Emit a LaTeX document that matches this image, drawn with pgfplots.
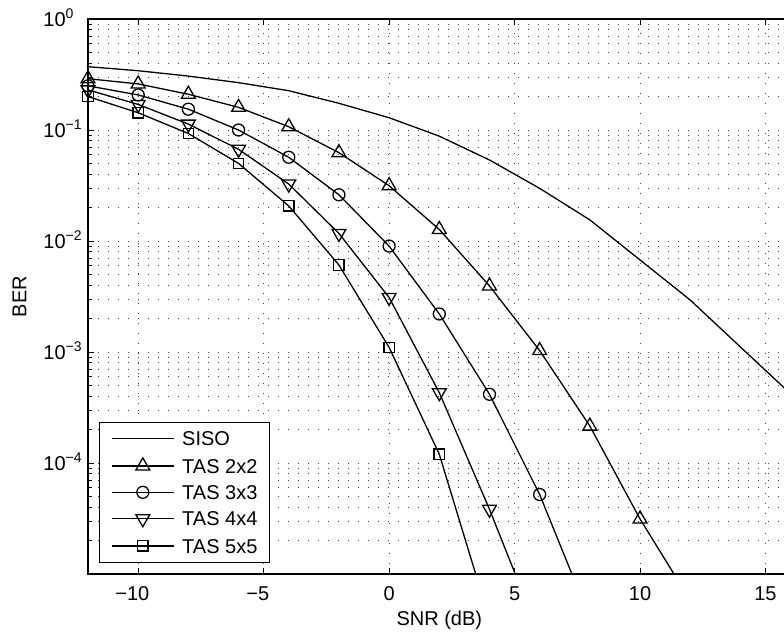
\documentclass[border=0pt]{standalone}
\usepackage{fontspec}
\setmainfont{Liberation Sans}
\usepackage{pgfplots}
\pgfplotsset{compat=1.18}

\begin{document}
\begin{tikzpicture}
\begin{axis}[
  scale only axis,
  width=351.3pt, height=277.5pt,
  ymode=log,
  xmin=-12, xmax=16, ymin=1e-5, ymax=1,
  xtick={-10,-5,0,5,10,15},
  xticklabels={\llap{−}10,\llap{−}5,0,5,10,15},
  ytick={1e-4,1e-3,1e-2,1e-1,1},
  yticklabels={10\textsuperscript{−4},10\textsuperscript{−3},10\textsuperscript{−2},10\textsuperscript{−1},10\textsuperscript{0}},
  minor ytick={2e-5,3e-5,4e-5,5e-5,6e-5,7e-5,8e-5,9e-5,
               2e-4,3e-4,4e-4,5e-4,6e-4,7e-4,8e-4,9e-4,
               2e-3,3e-3,4e-3,5e-3,6e-3,7e-3,8e-3,9e-3,
               2e-2,3e-2,4e-2,5e-2,6e-2,7e-2,8e-2,9e-2,
               2e-1,3e-1,4e-1,5e-1,6e-1,7e-1,8e-1,9e-1},
  tick align=inside,
  xtick pos=both, ytick pos=both,
  major tick length=3pt, minor tick length=2pt,
  tick style={black, line width=0.5pt},
  axis line style={line width=1pt},
  xmajorgrids, ymajorgrids, yminorgrids,
  major grid style={black!75, line width=0.5pt, dash pattern=on 0.6pt off 4.4pt},
  minor grid style={black!75, line width=0.5pt, dash pattern=on 0.6pt off 4.4pt},
  every axis x label/.style={at={(rel axis cs:0.5,0)}, anchor=base, yshift=-25.5pt},
  every axis y label/.style={at={(rel axis cs:0,0.5)}, xshift=-34.25pt, rotate=90, anchor=center},
  xlabel={SNR (dB)}, ylabel={BER},
  xticklabel style={anchor=base, inner sep=0pt, yshift=-13pt},
  yticklabel style={anchor=base west, inner sep=0pt, xshift=-22.5pt, yshift=-3.6pt},
  every axis plot/.append style={black, line width=0.65pt},
  legend cell align=left,
  legend image code/.code={\draw[mark repeat=2,mark phase=2] plot coordinates {(0pt,0pt) (15.5pt,0pt) (31pt,0pt)};},
  legend style={at={(0.0152,0.0198)}, anchor=south west, draw=black, line width=0.5pt,
    inner xsep=6pt, inner ysep=4.7pt, row sep=6pt,
    nodes={inner sep=0pt, text height=7.2pt, text depth=0pt},
    /tikz/every odd column/.append style={column sep=3.85pt}},
]
% SISO reference curve
\addplot[mark=none] coordinates {
  (-12,0.372) (-10,0.342) (-8,0.306) (-6,0.267) (-4,0.226) (-2,0.174)
  (0,0.129) (2,0.088) (4,0.0537) (6,0.0298) (8,0.0155) (10,0.00675)
  (12,0.00294) (14,0.00111) (16,4.2e-4)};
\addlegendentry{SISO}
% transmit antenna selection, 2x2
\addplot[mark=triangle, mark size=4pt, mark options={solid, fill=none}] coordinates {
  (-12,0.29) (-10,0.26) (-8,0.21) (-6,0.16) (-4,0.107) (-2,0.0625)
  (0,0.0315) (2,0.0127) (4,0.00394) (6,0.00103) (8,2.15e-4) (10,3.13e-5)
  (12,5.8e-6)};
\addlegendentry{TAS 2x2}
% 3x3
\addplot[mark=o, mark size=3pt, mark options={solid, fill=none}] coordinates {
  (-12,0.25) (-10,0.207) (-8,0.154) (-6,0.1) (-4,0.0568) (-2,0.0261)
  (0,0.009) (2,0.0022) (4,4.16e-4) (6,5.2e-5) (8,4e-6)};
\addlegendentry{TAS 3x3}
% 4x4
\addplot[mark=triangle, mark size=4pt, mark options={solid, fill=none, rotate=180}] coordinates {
  (-12,0.23) (-10,0.17) (-8,0.113) (-6,0.067) (-4,0.0326) (-2,0.0117)
  (0,0.0031) (2,4.3e-4) (4,3.83e-5) (6,2.8e-6)};
\addlegendentry{TAS 4x4}
% 5x5
\addplot[mark=square, mark size=2.6pt, mark options={solid, fill=none}] coordinates {
  (-12,0.20) (-10,0.143) (-8,0.093) (-6,0.050) (-4,0.0207) (-2,0.00608)
  (0,0.0011) (2,1.2e-4) (4,3.9e-6)};
\addlegendentry{TAS 5x5}
\end{axis}
\pgfresetboundingbox
\path[use as bounding box] ([shift={(-44pt,-29pt)}]current axis.south west)
  rectangle ([shift={(348pt,287pt)}]current axis.south west);
\end{tikzpicture}
\end{document}
